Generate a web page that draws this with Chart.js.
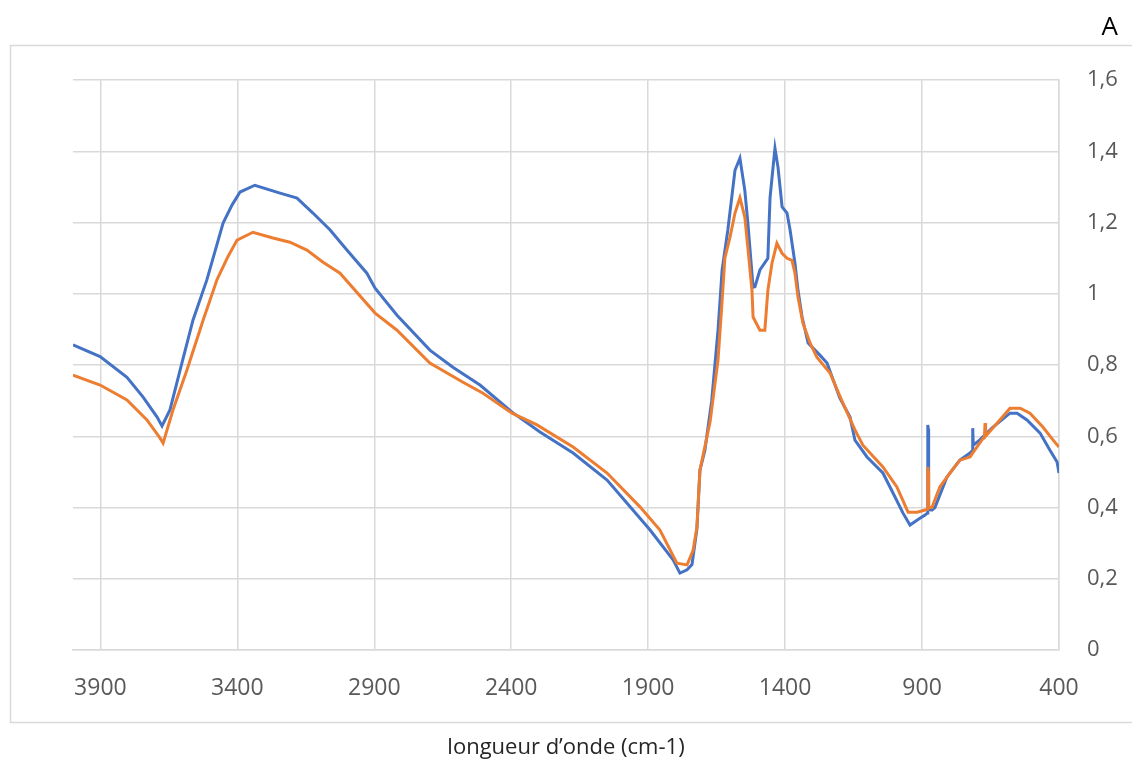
<!DOCTYPE html>
<html>
<head>
<meta charset="utf-8">
<title>Spectre IR</title>
<script src="https://cdn.jsdelivr.net/npm/chart.js@4/dist/chart.umd.min.js"></script>
<style>
  html, body { margin: 0; padding: 0; background: #fff; }
  #wrap { width: 1132px; height: 766px; position: relative; }
</style>
</head>
<body>
<div id="wrap"><canvas id="chart" width="1132" height="766"></canvas></div>
<script>
"use strict";

// ── DATA ──────────────────────────────────────
// wavenumber (cm-1) / absorbance
const blueX = [4000, 3901, 3803, 3744, 3693, 3675, 3646, 3609, 3562, 3511, 3452, 3419, 3390, 3336, 3244, 3182, 3124,
  3062, 3000, 2927, 2897, 2817, 2697, 2613, 2514, 2397, 2295, 2174, 2050, 1966, 1893, 1809, 1784, 1758, 1740,
  1722, 1711, 1693, 1668, 1645, 1630, 1609, 1583, 1565, 1547, 1536, 1517, 1510, 1492, 1463, 1455, 1437, 1426,
  1411, 1393, 1382, 1364, 1353, 1338, 1316, 1273, 1247, 1200, 1163, 1145, 1101, 1043, 1006, 970, 944, 908, 889,
  880, 879, 877, 876, 864, 853, 809, 762, 725, 716, 715, 713, 689, 641, 579, 553, 517, 469, 433, 407, 400];
const blueY = [0.857, 0.824, 0.766, 0.71, 0.654, 0.629, 0.674, 0.786, 0.926, 1.04, 1.199, 1.25, 1.286, 1.305, 1.283, 1.269, 1.227,
  1.18, 1.123, 1.058, 1.016, 0.94, 0.842, 0.794, 0.744, 0.668, 0.612, 0.553, 0.477, 0.402, 0.337, 0.253, 0.216, 0.225, 0.24,
  0.34, 0.505, 0.56, 0.70, 0.898, 1.067, 1.18, 1.347, 1.381, 1.29, 1.199, 1.019, 1.02, 1.067, 1.10, 1.27, 1.409, 1.356,
  1.244, 1.227, 1.18, 1.086, 1.01, 0.935, 0.862, 0.828, 0.806, 0.707, 0.654, 0.589, 0.542, 0.497, 0.441, 0.385, 0.351, 0.37, 0.379,
  0.385, 0.632, 0.62, 0.395, 0.393, 0.40, 0.486, 0.533, 0.553, 0.56, 0.623, 0.575, 0.59, 0.626, 0.665, 0.665, 0.646, 0.609, 0.561, 0.528, 0.497];

const orangeX = [4000, 3901, 3803, 3730, 3682, 3671, 3635, 3584, 3525, 3474, 3434, 3401, 3343, 3270, 3208, 3146, 3087,
  3025, 2897, 2817, 2697, 2576, 2503, 2397, 2306, 2174, 2050, 1930, 1857, 1795, 1758, 1736, 1722, 1711, 1674,
  1645, 1630, 1620, 1601, 1583, 1565, 1547, 1536, 1521, 1517, 1492, 1474, 1463, 1448, 1430, 1411, 1393, 1375,
  1364, 1353, 1335, 1309, 1284, 1236, 1189, 1145, 1116, 1043, 992, 951, 918, 889, 880, 879, 877, 876, 864, 835,
  798, 762, 725, 672, 670, 668, 616, 579, 542, 506, 459, 422, 400];
const orangeY = [0.772, 0.744, 0.702, 0.646, 0.595, 0.581, 0.674, 0.786, 0.926, 1.04, 1.105, 1.151, 1.173, 1.157, 1.145, 1.123, 1.089,
  1.058, 0.946, 0.898, 0.806, 0.752, 0.721, 0.665, 0.632, 0.57, 0.497, 0.402, 0.337, 0.244, 0.239, 0.28, 0.345, 0.505, 0.64,
  0.814, 0.98, 1.10, 1.16, 1.227, 1.27, 1.215, 1.13, 1.01, 0.935, 0.898, 0.898, 1.01, 1.086, 1.142, 1.114, 1.10, 1.094,
  1.058, 0.991, 0.918, 0.862, 0.822, 0.778, 0.693, 0.618, 0.575, 0.514, 0.458, 0.387, 0.387, 0.393, 0.395, 0.514, 0.50, 0.40, 0.40, 0.458,
  0.497, 0.533, 0.542, 0.60, 0.637, 0.60, 0.646, 0.679, 0.679, 0.665, 0.626, 0.59, 0.57];

const xTicks = [3900, 3400, 2900, 2400, 1900, 1400, 900, 400];
const yTicks = [0, 0.2, 0.4, 0.6, 0.8, 1, 1.2, 1.4, 1.6];

const xTitle = "longueur d’onde (cm-1)";
const yUnit  = "A";

// ── STYLE ─────────────────────────────────────
const BLUE   = "#4472C4";
const ORANGE = "#ED7D31";
const GRID   = "#d9d9d9";
const LABEL  = "#595959";
const FONT   = "'Open Sans', 'Noto Sans', sans-serif";

const toPts = (xs, ys) => xs.map((x, i) => ({ x: x, y: ys[i] }));
const fmt   = v => String(Number(v.toFixed(1))).replace(".", ",");

// outer frame + white background
const framePlugin = {
  id: "frame",
  beforeDraw(chart) {
    const c = chart.ctx;
    c.save();
    c.fillStyle = "#fff";
    c.fillRect(0, 0, chart.width, chart.height);
    c.strokeStyle = GRID;
    c.lineWidth = 1.5;
    c.strokeRect(10.5, 45.5, 1130, 677);
    c.restore();
  }
};

new Chart(document.getElementById("chart"), {
  type: "line",
  data: {
    datasets: [{
      label: "orange",
      data: toPts(orangeX, orangeY),
      borderColor: ORANGE,
      borderWidth: 3,
      pointRadius: 0,
      tension: 0,
      order: 0,
    }, {
      label: "bleu",
      data: toPts(blueX, blueY),
      borderColor: BLUE,
      borderWidth: 3,
      pointRadius: 0,
      tension: 0,
      order: 1,
    }]
  },
  options: {
    responsive: false,
    animation: false,
    layout: { padding: { left: 73, right: 14, top: 0, bottom: 0 } },
    scales: {
      x: {
        type: "linear",
        reverse: true,
        min: 400, max: 4000,
        afterBuildTicks: s => { s.ticks = xTicks.map(v => ({ value: v })); },
        afterFit: s => { s.height = 116; },
        grid:   { color: GRID, lineWidth: 1.5, drawTicks: false },
        border: { color: GRID, width: 1.5 },
        ticks:  { color: LABEL, font: { family: FONT, size: 23 }, padding: 25, maxRotation: 0, autoSkip: false,
                  callback: v => String(v) },
        title:  { display: true, text: xTitle, color: "#262626",
                  font: { family: FONT, size: 22 }, padding: { top: 0, bottom: 5 } },
      },
      y: {
        position: "right",
        min: 0, max: 1.6,
        afterBuildTicks: s => { s.ticks = yTicks.map(v => ({ value: v })); },
        afterFit: s => { s.width = 59; },
        grid:   { color: GRID, lineWidth: 1.5, drawTicks: false },
        border: { color: GRID, width: 1.5 },
        ticks:  { color: LABEL, font: { family: FONT, size: 22 }, padding: 28, callback: v => fmt(v) },
      }
    },
    plugins: {
      legend:  { display: false },
      tooltip: { enabled: false },
      title: {
        display: true,
        text: yUnit,
        align: "end",
        color: "#000",
        font: { family: FONT, size: 26, weight: "normal" },
        padding: { top: 12, bottom: 37 },
      }
    }
  },
  plugins: [framePlugin]
});
</script>
</body>
</html>
